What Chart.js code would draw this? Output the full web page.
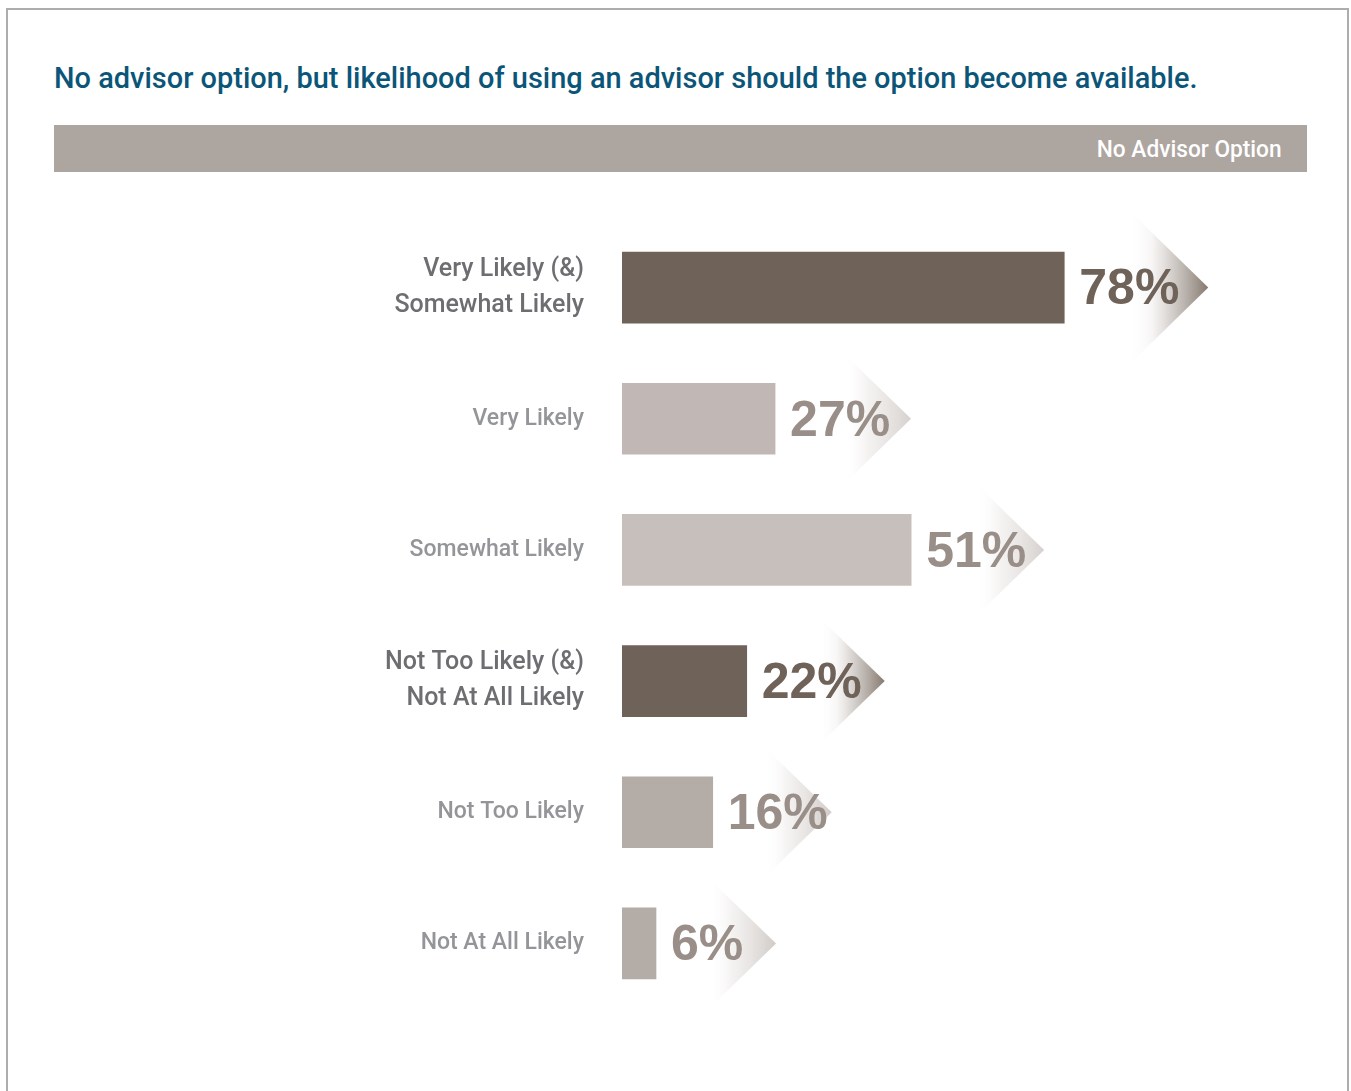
<!DOCTYPE html>
<html>
<head>
<meta charset="utf-8">
<script src="https://cdn.jsdelivr.net/npm/chart.js@4/dist/chart.umd.min.js"></script>
<style>
  body { margin: 0; background: #fff; width: 1351px; height: 1091px; overflow: hidden; position: relative; }
  .frame { position: absolute; left: 6px; top: 8px; width: 1343px; height: 1200px; border: 2px solid #adadad; box-sizing: border-box; }
  .title { position: absolute; left: 54px; top: 60px; font-family: Roboto, sans-serif; font-weight: 500; font-size: 30px; color: #0b5678; white-space: nowrap; transform: scaleX(0.965); transform-origin: left center; }
  .header { position: absolute; left: 54px; top: 125px; width: 1253px; height: 47px; background: #ada59f; }
  .header span { position: absolute; right: 25px; top: 10px; font-family: Roboto, sans-serif; font-weight: 500; font-size: 24px; color: #fff; white-space: nowrap; transform: scaleX(0.945); transform-origin: right center; }
  .wrap { position: absolute; left: 54px; top: 185px; width: 1253px; height: 860px; }
</style>
</head>
<body>
<div class="frame"></div>
<div class="title">No advisor option, but likelihood of using an advisor should the option become available.</div>
<div class="header"><span>No Advisor Option</span></div>
<div class="wrap"><canvas id="chart"></canvas></div>
<script>
// Chart data
const categories = [
    ['Very Likely (&)', 'Somewhat Likely'],
    'Very Likely',
    'Somewhat Likely',
    ['Not Too Likely (&)', 'Not At All Likely'],
    'Not Too Likely',
    'Not At All Likely'
];
const values = [78, 27, 51, 22, 16, 6];
const summaryRows = [true, false, false, true, false, false];

// Styles
const barColors = ['#6f6259', '#c1b8b5', '#c7bfbc', '#6f6259', '#b4aca7', '#b4aca7'];
const valueColors = ['#6f6259', '#9a8f88', '#9a8f88', '#6f6259', '#9a8f88', '#9a8f88'];
const arrowTips = ['#85796f', '#d6d1ce', '#d6d1ce', '#85796f', '#d0cbc8', '#d0cbc8'];
// gap between bar end and arrow back edge, and arrow half height
const arrowGaps = [64, 69, 66, 71, 52, 53];
const arrowSizes = [78, 65, 65, 65, 65, 65];

// Gradient arrows behind the value labels, then the labels themselves
const arrowLabels = {
    id: 'arrowLabels',
    beforeDatasetsDraw(chart) {
        const ctx = chart.ctx;
        chart.getDatasetMeta(0).data.forEach((bar, i) => {
            const half = arrowSizes[i];
            const left = bar.x + arrowGaps[i];
            const tip = left + half + 2;
            const grad = ctx.createLinearGradient(left, 0, tip, 0);
            grad.addColorStop(0, 'rgba(255,255,255,0)');
            grad.addColorStop(0.3, 'rgba(245,243,242,0.8)');
            grad.addColorStop(1, arrowTips[i]);
            ctx.save();
            ctx.beginPath();
            ctx.moveTo(left, bar.y - half);
            ctx.lineTo(tip, bar.y);
            ctx.lineTo(left, bar.y + half);
            ctx.closePath();
            ctx.fillStyle = grad;
            ctx.fill();
            ctx.restore();
        });
    },
    afterDatasetsDraw(chart) {
        const ctx = chart.ctx;
        chart.getDatasetMeta(0).data.forEach((bar, i) => {
            ctx.save();
            ctx.font = "bold 50px 'Liberation Sans', Arial, sans-serif";
            ctx.fillStyle = valueColors[i];
            ctx.textAlign = 'left';
            ctx.textBaseline = 'middle';
            ctx.fillText(values[i] + '%', bar.x + 15, bar.y + 3);
            ctx.restore();
        });
    }
};

const ctx = document.getElementById('chart').getContext('2d');
new Chart(ctx, {
    type: 'bar',
    data: {
        labels: categories,
        datasets: [{
            data: values,
            backgroundColor: barColors,
            barThickness: 71,
            borderWidth: 0
        }]
    },
    options: {
        indexAxis: 'y',
        responsive: true,
        maintainAspectRatio: false,
        animation: false,
        layout: {
            padding: { top: 37, bottom: 36, right: 118, left: 0 }
        },
        plugins: {
            legend: { display: false },
            tooltip: { enabled: false }
        },
        scales: {
            x: {
                display: false,
                min: 0,
                max: 100
            },
            y: {
                grid: { display: false, drawTicks: false },
                border: { display: false },
                afterFit(scale) {
                    scale.width = 568;
                    scale.paddingTop = 0;
                    scale.paddingBottom = 0;
                },
                ticks: {
                    padding: 38,
                    color: c => summaryRows[c.index] ? '#6d6e71' : '#939598',
                    font: c => ({
                        family: 'Roboto, sans-serif',
                        weight: 500,
                        size: summaryRows[c.index] ? 25 : 23,
                        lineHeight: 1.44
                    })
                }
            }
        }
    },
    plugins: [arrowLabels]
});
</script>
</body>
</html>
